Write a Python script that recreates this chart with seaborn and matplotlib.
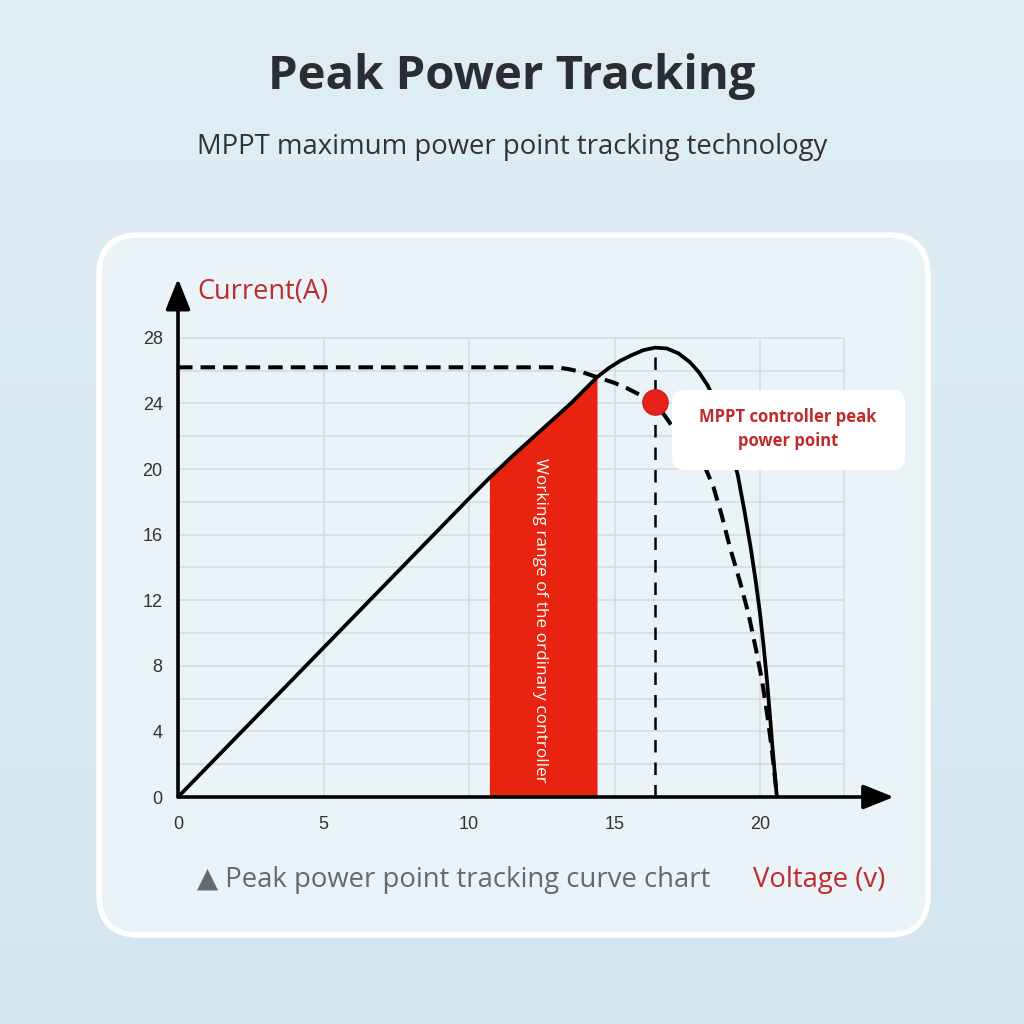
import numpy as np
import matplotlib
matplotlib.use("Agg")
import matplotlib.pyplot as plt
from matplotlib.patches import FancyBboxPatch
import seaborn as sns

# solid curve: output with MPPT controller
solid_v = [0, 5, 10, 10.7, 11.5, 12.5, 13.5, 14.4, 14.8, 15.2, 15.6, 16.0,
           16.4, 16.8, 17.2, 17.6, 17.9, 18.2, 18.5, 18.8, 19.0, 19.24, 19.47,
           19.68, 19.85, 20.0, 20.13, 20.24, 20.34, 20.43, 20.51, 20.58]
solid_i = [0, 9.1, 18.2, 19.45, 20.8, 22.4, 24.0, 25.6, 26.15, 26.6, 26.95, 27.25,
           27.4, 27.35, 27.05, 26.5, 25.9, 25.1, 24.0, 22.5, 21.3, 19.6, 17.4,
           15.2, 13.2, 11.2, 9.1, 7.1, 5.0, 3.0, 1.4, 0]

# dashed curve: panel I-V curve
dashed_v = [0, 13.0, 13.4, 13.9, 14.4, 15.0, 15.4, 15.9, 16.4, 16.75, 17.1,
            17.5, 17.9, 18.15, 18.4, 18.68, 18.97, 19.3, 19.6, 19.85, 20.07,
            20.25, 20.4, 20.5, 20.58]
dashed_i = [26.2, 26.2, 26.1, 25.9, 25.6, 25.25, 24.95, 24.5, 24.0, 23.2, 22.3,
            21.45, 20.6, 19.95, 18.9, 17.2, 15.2, 13.2, 11.2, 9.1, 7.1,
            5.0, 3.0, 1.4, 0]

range_lo, range_hi = 10.7, 14.4      # ordinary controller working range
peak_v, peak_i = 16.4, 27.4
mppt_v, mppt_i = 16.4, 24.1

x_ticks = [0, 5, 10, 15, 20]
y_ticks = [0, 4, 8, 12, 16, 20, 24, 28]
grid_rows = [2, 4, 6, 8, 10, 12, 14, 16, 18, 20, 22, 24, 26, 28]
grid_cols = [5, 10, 15, 20, 22.9]

RED_TXT = "#bf2a2c"
RED_BAR = "#e8230f"

sns.set_style("white")
plt.rcParams["font.family"] = ["Open Sans", "DejaVu Sans"]

fig = plt.figure(figsize=(10.24, 10.24), dpi=100)

# background + panel, drawn in pixel space
bg = fig.add_axes([0, 0, 1, 1], zorder=-5)
grad = np.linspace(0, 1, 256)[:, None] * np.ones((1, 4))
bg.imshow(grad, extent=[0, 1024, 1024, 0], aspect="auto",
          cmap=matplotlib.colors.LinearSegmentedColormap.from_list(
              "bg", ["#e0eef4", "#d3e6f0"]))
bg.add_patch(FancyBboxPatch((99, 235), 829, 700,
                            boxstyle="round,pad=0,rounding_size=40",
                            facecolor="#eaf3f8", edgecolor="white", lw=4))
bg.set_xlim(0, 1024)
bg.set_ylim(1024, 0)
bg.axis("off")

# plot area: 29.1 px per volt, 16.4 px per amp, origin at (178, 797)
xmax, ymax = 24.6, 31.6
ax = fig.add_axes([178 / 1024, (1024 - 797) / 1024,
                   xmax * 29.1 / 1024, ymax * 16.4 / 1024])
ax.set_facecolor("none")
ax.set_xlim(0, xmax)
ax.set_ylim(0, ymax)

ax.hlines(grid_rows, 0, grid_cols[-1], color="#d3dbe1", lw=1.1, zorder=1)
ax.vlines(grid_cols, 0, grid_rows[-1], color="#d3dbe1", lw=1.1, zorder=1)

sel = [k for k, v in enumerate(solid_v) if range_lo <= v <= range_hi]
ax.fill_between([solid_v[k] for k in sel], [solid_i[k] for k in sel], 0,
                color=RED_BAR, lw=0, zorder=2)
ax.text((range_lo + range_hi) / 2 - 0.1, 10.8,
        "Working range of the ordinary controller", rotation=-90,
        color="white", fontsize=12.3, ha="center", va="center", zorder=3)

sns.lineplot(x=solid_v, y=solid_i, sort=False, estimator=None, ax=ax,
             color="black", lw=2.7, zorder=4)
sns.lineplot(x=dashed_v, y=dashed_i, sort=False, estimator=None, ax=ax,
             color="black", lw=2.9, linestyle=(0, (3.6, 2.0)), zorder=4)
ax.vlines(peak_v, 0, peak_i, color="black", lw=1.8,
          linestyles=[(0, (5, 4))], zorder=3)
ax.scatter([mppt_v], [mppt_i], s=330, color="#e5211a", edgecolor="#d01c15",
           lw=1, zorder=5)

for s in ax.spines.values():
    s.set_visible(False)
arrow = dict(arrowstyle="-|>,head_length=0.75,head_width=0.3",
             color="black", lw=2.6, shrinkA=0, shrinkB=0, mutation_scale=25)
ax.annotate("", xy=(1, 0), xytext=(0, 0), xycoords="axes fraction",
            arrowprops=arrow, zorder=6)
ax.annotate("", xy=(0, 1), xytext=(0, 0), xycoords="axes fraction",
            arrowprops=arrow, zorder=6)

ax.set_xticks(x_ticks)
ax.set_yticks(y_ticks)
ax.tick_params(length=0, labelsize=13, labelcolor="#333333")
ax.tick_params(axis="x", pad=14)
ax.tick_params(axis="y", pad=11)
for lab in ax.get_xticklabels() + ax.get_yticklabels():
    lab.set_fontfamily(["Liberation Sans", "DejaVu Sans"])

# callout box
fig.patches.append(FancyBboxPatch((672 / 1024, 1 - 470 / 1024), 233 / 1024, 80 / 1024,
                                  boxstyle="round,pad=0,rounding_size=0.012",
                                  transform=fig.transFigure, facecolor="white",
                                  edgecolor="none", zorder=5))
fig.text(788 / 1024, 1 - 429 / 1024, "MPPT controller peak\npower point",
         color=RED_TXT, fontsize=12, fontweight="bold", ha="center",
         va="center", linespacing=1.45, zorder=6)

# titles and labels
fig.text(0.5, 1 - 76 / 1024, "Peak Power Tracking", fontsize=34,
         fontweight="bold", color="#2a2d31", ha="center", va="center")
fig.text(0.5, 1 - 147 / 1024, "MPPT maximum power point tracking technology",
         fontsize=19.8, color="#333333", ha="center", va="center")
fig.text(197 / 1024, 1 - 292 / 1024, "Current(A)", fontsize=19.5,
         color=RED_TXT, ha="left", va="center")
fig.text(197 / 1024, 1 - 880 / 1024, "▲ Peak power point tracking curve chart",
         fontsize=19.8, color="#66696d", ha="left", va="center")
fig.text(753 / 1024, 1 - 880 / 1024, "Voltage (v)", fontsize=19.8,
         color=RED_TXT, ha="left", va="center")

fig.savefig("out.png", dpi=100)
